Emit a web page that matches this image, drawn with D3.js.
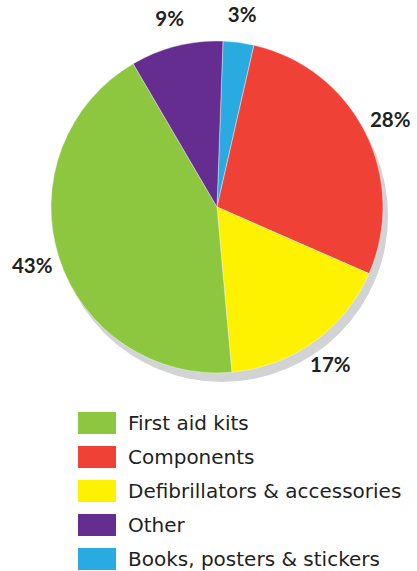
<!DOCTYPE html>
<html>
<head>
  <style>
    body { margin: 0; background: #fff; }
    svg { display: block; }
    .pct { font-family: "Lato", sans-serif; font-weight: bold; font-size: 20.5px; fill: #231f20; }
    .leg { font-family: "DejaVu Sans", sans-serif; font-size: 20px; fill: #231f20; }
  </style>
</head>
<body>
  <svg width="417" height="571"></svg>
  <script src="https://cdn.jsdelivr.net/npm/d3@7/dist/d3.min.js"></script>
  <script>
    // slices in clockwise order from the top
    const sliceNames = ["Books, posters & stickers", "Components", "Defibrillators & accessories", "First aid kits", "Other"];
    const sliceValues = [3, 28, 17, 43, 9];
    const sliceColors = ["#29abe2", "#ef4136", "#fff200", "#8dc63f", "#662d91"];

    // legend order
    const legendNames = ["First aid kits", "Components", "Defibrillators & accessories", "Other", "Books, posters & stickers"];

    const cx = 217, cy = 207, r = 166;
    const startAngle = 0.036;

    const svg = d3.select("svg");
    const color = d3.scaleOrdinal().domain(sliceNames).range(sliceColors);

    const pie = d3.pie().sort(null)
      .startAngle(startAngle)
      .endAngle(startAngle + 2 * Math.PI)
      .value((d, i) => sliceValues[i]);
    const arcs = pie(sliceNames);

    const arc = d3.arc().innerRadius(0).outerRadius(r);
    const labelArc = d3.arc().innerRadius(194).outerRadius(194);

    // drop shadow
    svg.append("circle")
      .attr("cx", cx + 5)
      .attr("cy", cy + 9)
      .attr("r", r)
      .attr("fill", "#d1d3d4");

    const g = svg.append("g").attr("transform", `translate(${cx},${cy})`);

    g.selectAll("path")
      .data(arcs)
      .enter()
      .append("path")
      .attr("d", arc)
      .attr("fill", d => color(d.data))
      .attr("stroke", "#ffffff")
      .attr("stroke-width", 0.4);

    g.selectAll(".pct")
      .data(arcs)
      .enter()
      .append("text")
      .attr("class", "pct")
      .attr("transform", d => `translate(${labelArc.centroid(d)})`)
      .attr("text-anchor", "middle")
      .attr("dy", "0.35em")
      .text(d => d.value + "%");

    // legend
    const ly = d3.scaleBand().domain(legendNames).range([406, 576]).paddingInner(0);

    const leg = svg.selectAll(".legrow")
      .data(legendNames)
      .enter()
      .append("g")
      .attr("class", "legrow")
      .attr("transform", d => `translate(78,${ly(d) + 6})`);

    leg.append("rect")
      .attr("width", 38)
      .attr("height", 22)
      .attr("fill", d => color(d));

    leg.append("text")
      .attr("class", "leg")
      .attr("x", 50)
      .attr("y", 11)
      .attr("dy", "0.35em")
      .text(d => d);
  </script>
</body>
</html>
